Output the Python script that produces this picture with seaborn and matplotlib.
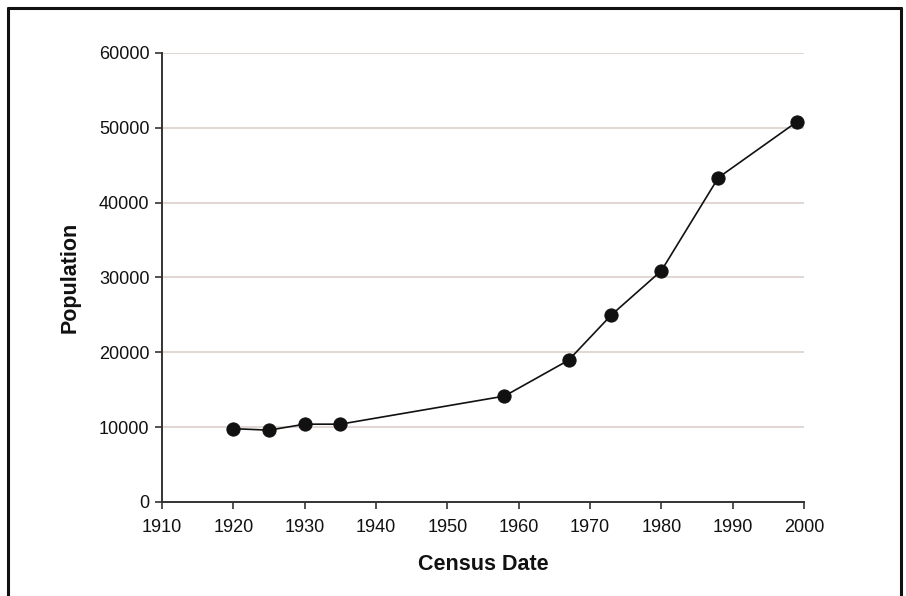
import matplotlib
matplotlib.use("Agg")
import matplotlib.pyplot as plt
import seaborn as sns
import pandas as pd
from matplotlib.lines import Line2D

years = [1920, 1925, 1930, 1935, 1958, 1967, 1973, 1980, 1988, 1999]
population = [9800, 9600, 10400, 10400, 14150, 18950, 25000, 30900, 43350, 50800]
x_ticks = [1910, 1920, 1930, 1940, 1950, 1960, 1970, 1980, 1990, 2000]
y_ticks = [0, 10000, 20000, 30000, 40000, 50000, 60000]

sns.set_theme(style="white")
plt.rcParams['font.family'] = ['Liberation Sans', 'DejaVu Sans']

df = pd.DataFrame({"Census Date": years, "Population": population})

fig = plt.figure(figsize=(9.06, 5.96), dpi=100)
ax = fig.add_axes([162/906, 1-502/596, (804-162)/906, (502-53)/596])

for yv in y_ticks[1:]:
    ax.axhline(yv, color="#dbd1cc", lw=1.2, zorder=0)

sns.lineplot(data=df, x="Census Date", y="Population", ax=ax, color="#111111",
             lw=1.2, marker="o", markersize=9.5, markeredgecolor="#111111",
             markerfacecolor="#111111", zorder=3)

ax.set_xlim(1910, 2000)
ax.set_ylim(0, 60000)
ax.set_xticks(x_ticks)
ax.set_yticks(y_ticks)
ax.set_xticklabels([str(v) for v in x_ticks], fontsize=13, color="#111111")
ax.set_yticklabels([str(v) for v in y_ticks], fontsize=13, color="#111111")
ax.tick_params(axis="both", direction="out", length=5, width=1.2, color="#333333", pad=4)
ax.tick_params(axis="x", pad=7)
ax.tick_params(left=True, bottom=True)

for s in ["top", "right"]:
    ax.spines[s].set_visible(False)
for s in ["left", "bottom"]:
    ax.spines[s].set_color("#333333")
    ax.spines[s].set_linewidth(1.4)

ax.set_xlabel("Census Date", fontsize=15.5, fontweight="bold", labelpad=13, color="#111111")
ax.set_ylabel("Population", fontsize=15.5, fontweight="bold", labelpad=13, color="#111111")

# figure frame (left, top, right)
fw, fh = 906, 596
xl, xr, yt = 8/fw, 901/fw, 1-8/fh
for xs, ys in [([xl, xl], [-0.05, yt]), ([xl, xr], [yt, yt]), ([xr, xr], [yt, -0.05])]:
    fig.add_artist(Line2D(xs, ys, transform=fig.transFigure, color="#111111", lw=2.2))

fig.savefig("out.png", dpi=100)
